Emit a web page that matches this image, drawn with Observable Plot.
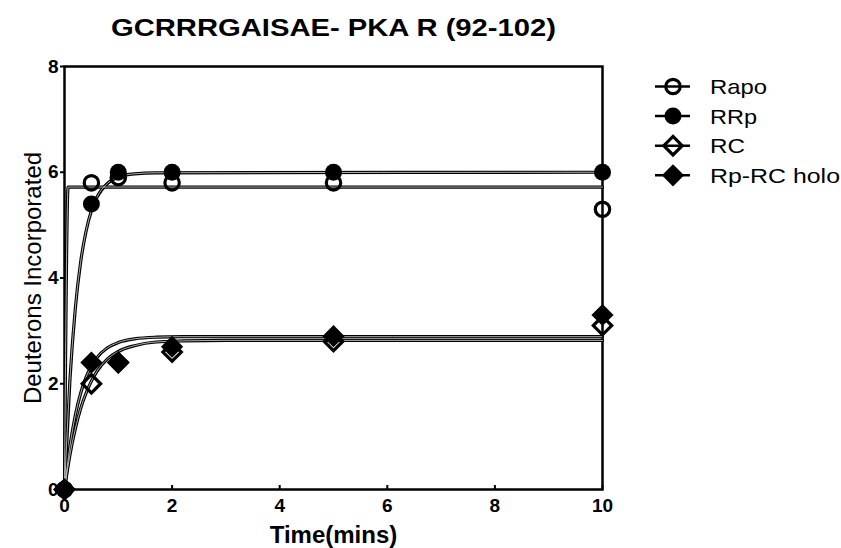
<!DOCTYPE html>
<html><head><meta charset="utf-8">
<script src="https://cdn.jsdelivr.net/npm/d3@7"></script>
<script src="https://cdn.jsdelivr.net/npm/@observablehq/plot@0.6"></script>
<style>body{margin:0;background:#fff} #chart{width:841px;height:548px;position:relative}</style>
</head><body><div id="chart"></div>
<script>
// ---- data ----
const seriesNames = ["Rapo", "RRp", "RC", "Rp-RC holo"];
const timeMins = [0, 0.5, 1, 2, 5, 10];
const rapo = [0, 5.8, 5.9, 5.8, 5.8, 5.3];
const rrp = [0, 5.4, 6.0, 6.0, 6.0, 6.0];
const rc = [0, 2.0, 2.4, 2.6, 2.8, 3.1];
const rpRcHolo = [0, 2.4, 2.4, 2.7, 2.9, 3.3];

// fitted curves, points
const rapoFitT = [0, 0.067, 10];
const rapoFitV = [0, 5.72, 5.72];
const rrpFitT = [0, 0.1, 0.2, 0.3, 0.4, 0.5, 0.6, 0.8, 1.0, 1.3, 1.7, 10];
const rrpFitV = [0, 2.06, 3.41, 4.30, 4.88, 5.27, 5.52, 5.79, 5.91, 5.97, 5.99, 6.0];
const rcFitT = [0, 0.1, 0.2, 0.3, 0.4, 0.5, 0.6, 0.8, 1.0, 1.3, 1.7, 2.2, 3, 10];
const rcFitV = [0, 0.65, 1.14, 1.53, 1.82, 2.05, 2.23, 2.47, 2.61, 2.72, 2.79, 2.81, 2.82, 2.82];
const holoFitT = [0, 0.1, 0.2, 0.3, 0.4, 0.5, 0.6, 0.8, 1.0, 1.3, 1.7, 2.2, 10];
const holoFitV = [0, 0.81, 1.40, 1.82, 2.12, 2.33, 2.49, 2.68, 2.78, 2.85, 2.88, 2.89, 2.89];

const xTicks = [0, 2, 4, 6, 8, 10];
const yTicks = [0, 2, 4, 6, 8];
const titleText = "GCRRRGAISAE- PKA R (92-102)";
const xLabel = "Time(mins)";
const yLabel = "Deuterons Incorporated";

// ---- tables ----
const values = [rapo, rrp, rc, rpRcHolo];
const fitsT = [rapoFitT, rrpFitT, rcFitT, holoFitT];
const fitsV = [rapoFitV, rrpFitV, rcFitV, holoFitV];
const points = seriesNames.flatMap((s, i) => timeMins.map((t, j) => ({series: s, t, v: values[i][j]})));
const fits = seriesNames.flatMap((s, i) => fitsT[i].map((t, j) => ({series: s, t, v: fitsV[i][j]})));

const style = {
  "Rapo": {symbol: "circle", r: 7.2, fill: "none", stroke: "black", strokeWidth: 3.2},
  "RRp": {symbol: "circle", r: 8.5, fill: "black", stroke: "none", strokeWidth: 0},
  "RC": {symbol: "diamond2", r: 8.3, fill: "none", stroke: "black", strokeWidth: 3.2},
  "Rp-RC holo": {symbol: "diamond2", r: 10, fill: "black", stroke: "none", strokeWidth: 0}
};

const font = "'Liberation Sans', Arial, Helvetica, sans-serif";

const plot = Plot.plot({
  width: 841,
  height: 548,
  marginLeft: 64,
  marginRight: 239,
  marginTop: 66,
  marginBottom: 59,
  style: {fontFamily: font, background: "white", color: "black", overflow: "visible"},
  x: {domain: [0, 10], label: null},
  y: {domain: [0, 8], label: null},
  marks: [
    // tick marks (labels drawn below as text marks)
    Plot.axisX(xTicks, {tickSize: -4, tickFormat: () => "", label: null, strokeWidth: 2}),
    Plot.axisY(yTicks, {tickSize: 4, tickFormat: () => "", label: null, strokeWidth: 2}),
    Plot.text(xTicks, {x: d => d, text: d => String(d), frameAnchor: "bottom", dy: 9, lineAnchor: "top", textAnchor: "middle", fontSize: 19, fontWeight: "bold"}),
    Plot.text(yTicks, {y: d => d, text: d => String(d), frameAnchor: "left", dx: -6, lineAnchor: "middle", textAnchor: "end", fontSize: 19, fontWeight: "bold"}),
    Plot.frame({stroke: "black", strokeWidth: 2.5}),
    Plot.line(fits, {x: "t", y: "v", z: "series", stroke: "black", strokeWidth: 3.2, curve: "monotone-x"}),
    Plot.line(fits, {x: "t", y: "v", z: "series", stroke: "#dcdcdc", strokeWidth: 0.8, curve: "monotone-x"}),
    ...seriesNames.map(s => Plot.dot(points.filter(d => d.series === s), {x: "t", y: "v", ...style[s]})),
    Plot.text([titleText], {text: d => d, frameAnchor: "top", dy: -31, lineAnchor: "bottom", textAnchor: "middle", fontSize: 24, fontWeight: "bold"}),
    Plot.text([xLabel], {text: d => d, frameAnchor: "bottom", dy: 53, lineAnchor: "bottom", textAnchor: "middle", fontSize: 24, fontWeight: "bold"}),
    Plot.text([yLabel], {text: d => d, frameAnchor: "left", dx: -24, rotate: -90, lineAnchor: "bottom", textAnchor: "middle", fontSize: 24})
  ]
});

document.getElementById("chart").appendChild(plot);

const svg = d3.select(plot);

// stretch title to the width measured on the picture
svg.selectAll("text").each(function () {
  if (this.textContent === titleText) {
    this.setAttribute("textLength", 445);
    this.setAttribute("lengthAdjust", "spacingAndGlyphs");
  }
});

// legend
const legendY = [86.5, 116, 145.7, 175.3];
const legendWidths = [57, 47, 35, 130];
const g = svg.append("g").attr("class", "legend");
seriesNames.forEach((s, i) => {
  const y = legendY[i];
  const st = style[s];
  g.append("line").attr("x1", 655).attr("x2", 690).attr("y1", y).attr("y2", y)
    .attr("stroke", "black").attr("stroke-width", 2.6);
  g.append("path")
    .attr("transform", `translate(673,${y})`)
    .attr("d", d3.symbol(st.symbol === "circle" ? d3.symbolCircle : d3.symbolDiamond2, Math.PI * st.r * st.r)())
    .attr("fill", st.fill).attr("stroke", st.stroke).attr("stroke-width", st.strokeWidth);
  g.append("text").attr("x", 710).attr("y", y).attr("dy", "0.36em")
    .attr("text-anchor", "start")
    .attr("font-size", 21).attr("font-family", font).attr("fill", "black")
    .attr("textLength", legendWidths[i]).attr("lengthAdjust", "spacingAndGlyphs")
    .text(s);
});
</script>
</body></html>
